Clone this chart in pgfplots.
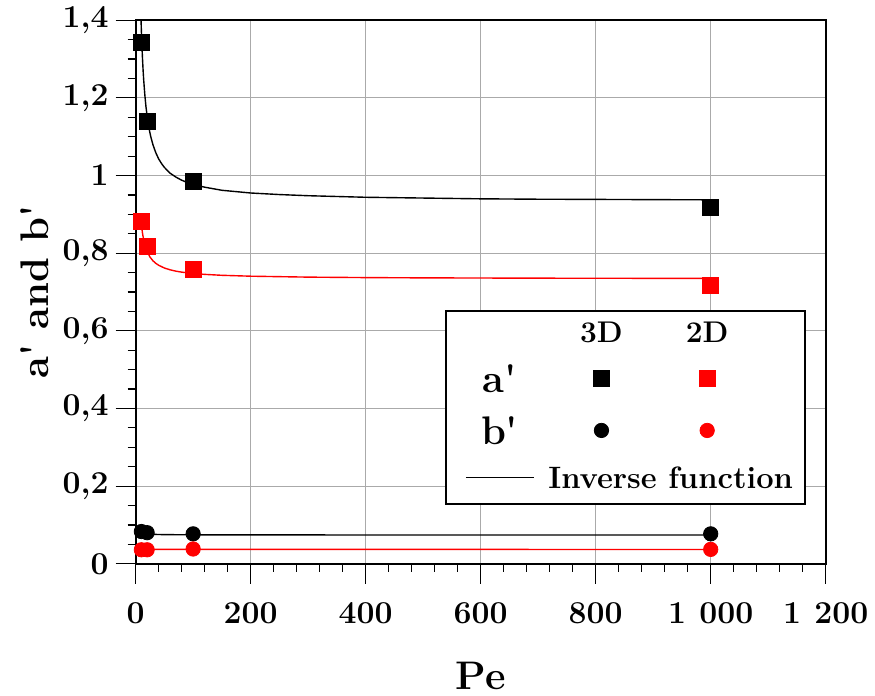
\documentclass[border=0pt]{standalone}
\usepackage{pgfplots}
\pgfplotsset{compat=1.18}
\definecolor{gridgray}{RGB}{170,170,170}
\newcommand{\cbox}[4]{\path[draw=none,fill=none] (#1,#3) rectangle (#2,#4);}
\begin{document}
\begin{tikzpicture}
\begin{axis}[
  name=ax,
  scale only axis, width=346pt, height=272.5pt,
  xmin=0, xmax=1200, ymin=0, ymax=1.4,
  xtick={0,200,400,600,800,1000,1200},
  ytick={0,0.2,0.4,0.6,0.8,1,1.2,1.4},
  minor x tick num=4, minor y tick num=3,
  tick align=outside, tick pos=left,
  major tick length=10pt, minor tick length=4pt,
  tick style={black, line width=0.6pt},
  grid=major, major grid style={gridgray, line width=0.6pt},
  axis line style={line width=0.9pt},
  tick label style={font=\fontsize{16}{19}\selectfont\bfseries},
  xticklabel style={yshift=-6pt},
  /pgf/number format/assume math mode=true,
  /pgf/number format/use comma,
  /pgf/number format/1000 sep={\hspace{0.42em}},
  xlabel={Pe}, ylabel={a\textquotesingle{} and b\textquotesingle},
  label style={font=\fontsize{20}{24}\selectfont\bfseries},
  xlabel style={yshift=-12pt},
  legend columns=3,
  legend style={at={(0.971,0.108)}, anchor=south east, draw=black, line width=0.8pt, fill=white,
    inner sep=0pt, row sep=0pt, column sep=0pt,
    nodes={inner sep=0pt, text depth=0pt, draw=none, fill=none}, cells={anchor=center}},
]
% Inverse function curves
\addplot[forget plot, black, line width=0.7pt] coordinates {
(0,0.933) (1,5.333) (2,3.133) (3,2.400) (4,2.033) (5,1.813) (6,1.666) (7,1.562) (8,1.483) (9,1.422)
(10,1.373) (11,1.333) (12,1.300) (13,1.271) (14,1.247) (16,1.208) (18,1.177) (20,1.153) (23,1.124)
(26,1.102) (30,1.080) (35,1.059) (40,1.043) (45,1.031) (50,1.021) (60,1.006) (70,0.996) (80,0.988)
(90,0.982) (100,0.977) (120,0.970) (150,0.962) (200,0.955) (250,0.951) (300,0.948) (400,0.944)
(500,0.942) (600,0.940) (700,0.939) (800,0.9385) (900,0.9379) (1000,0.9374)};
\addplot[forget plot, red, line width=0.7pt] coordinates {
(10,0.8746) (12,0.8511) (14,0.8343) (16,0.8217) (18,0.8119) (20,0.8041) (25,0.790) (30,0.7806)
(35,0.7739) (40,0.7689) (50,0.7618) (60,0.7571) (70,0.7537) (80,0.7512) (100,0.7477) (120,0.7454)
(150,0.7430) (200,0.7407) (300,0.7383) (400,0.7371) (500,0.7364) (600,0.7360) (700,0.7356)
(800,0.7354) (900,0.7352) (1000,0.7350)};
\addplot[forget plot, black, line width=0.7pt] coordinates {
(10,0.0790) (15,0.0773) (20,0.0765) (30,0.0757) (50,0.0750) (100,0.0745) (200,0.07425) (500,0.0741) (1000,0.07405)};
\addplot[forget plot, red, line width=0.7pt] coordinates {
(10,0.0372) (20,0.0370) (100,0.0369) (1000,0.0368)};
% data points
\addplot[forget plot, only marks, mark=square*, mark size=4pt, black] coordinates {
(10,1.343) (20,1.140) (100,0.984) (1000,0.917)};
\addplot[forget plot, only marks, mark=square*, mark size=4pt, red] coordinates {
(10,0.881) (20,0.817) (100,0.758) (1000,0.717)};
\addplot[forget plot, only marks, mark=*, mark size=3.6pt, black] coordinates {
(10,0.083) (20,0.080) (100,0.077) (1000,0.077)};
\addplot[forget plot, only marks, mark=*, mark size=3.6pt, red] coordinates {
(10,0.036) (20,0.036) (100,0.038) (1000,0.037)};
% legend (3 columns)
\addlegendimage{legend image code/.code={\cbox{-27pt}{25pt}{-11.5pt}{11pt}}}
\addlegendentry{\hbox{}}
\addlegendimage{legend image code/.code={\cbox{-25pt}{26pt}{-11.5pt}{11pt}\node[font=\fontsize{15}{18}\selectfont\bfseries,inner sep=0pt] at (0,0) {3D};}}
\addlegendentry{\hbox{}}
\addlegendimage{legend image code/.code={\cbox{-26pt}{48pt}{-11.5pt}{11pt}\node[font=\fontsize{15}{18}\selectfont\bfseries,inner sep=0pt] at (0,0) {2D};}}
\addlegendentry{\hbox{}}
\addlegendimage{legend image code/.code={\cbox{-27pt}{25pt}{-13pt}{11.5pt}\node[font=\fontsize{20}{24}\selectfont\bfseries,inner sep=0pt] at (0,0) {a\textquotesingle};}}
\addlegendentry{\hbox{}}
\addlegendimage{legend image code/.code={\cbox{-25pt}{26pt}{-13pt}{11.5pt}\draw[black,fill=black,line width=0.4pt,mark=square*,mark size=3.9pt] plot coordinates {(0pt,0pt)};}}
\addlegendentry{\hbox{}}
\addlegendimage{legend image code/.code={\cbox{-26pt}{48pt}{-13pt}{11.5pt}\draw[red,fill=red,line width=0.4pt,mark=square*,mark size=3.9pt] plot coordinates {(0pt,0pt)};}}
\addlegendentry{\hbox{}}
\addlegendimage{legend image code/.code={\cbox{-27pt}{25pt}{-11.75pt}{13pt}\node[font=\fontsize{20}{24}\selectfont\bfseries,inner sep=0pt] at (0,0) {b\textquotesingle};}}
\addlegendentry{\hbox{}}
\addlegendimage{legend image code/.code={\cbox{-25pt}{26pt}{-11.75pt}{13pt}\draw[black,fill=black,line width=0.4pt,mark=*,mark size=3.6pt] plot coordinates {(0pt,0pt)};}}
\addlegendentry{\hbox{}}
\addlegendimage{legend image code/.code={\cbox{-26pt}{48pt}{-11.75pt}{13pt}\draw[red,fill=red,line width=0.4pt,mark=*,mark size=3.6pt] plot coordinates {(0pt,0pt)};}}
\addlegendentry{\hbox{}}
\addlegendimage{legend image code/.code={\cbox{-27pt}{25pt}{-13.5pt}{11.75pt}\draw[black,line width=0.7pt] (-17pt,0pt) -- (17pt,0pt);\node[overlay,anchor=west,font=\fontsize{15.5}{18}\selectfont\bfseries,inner sep=0pt] at (24pt,0pt) {Inverse function};}}
\addlegendentry{\hbox{}}
\addlegendimage{legend image code/.code={\cbox{-25pt}{26pt}{-13.5pt}{11.75pt}}}
\addlegendentry{\hbox{}}
\addlegendimage{legend image code/.code={\cbox{-26pt}{48pt}{-13.5pt}{11.75pt}}}
\addlegendentry{\hbox{}}
\end{axis}
\path (ax.south west) ++(-68pt,-65.5pt);
\path (ax.north east) ++(23.5pt,9.5pt);
\end{tikzpicture}
\end{document}
